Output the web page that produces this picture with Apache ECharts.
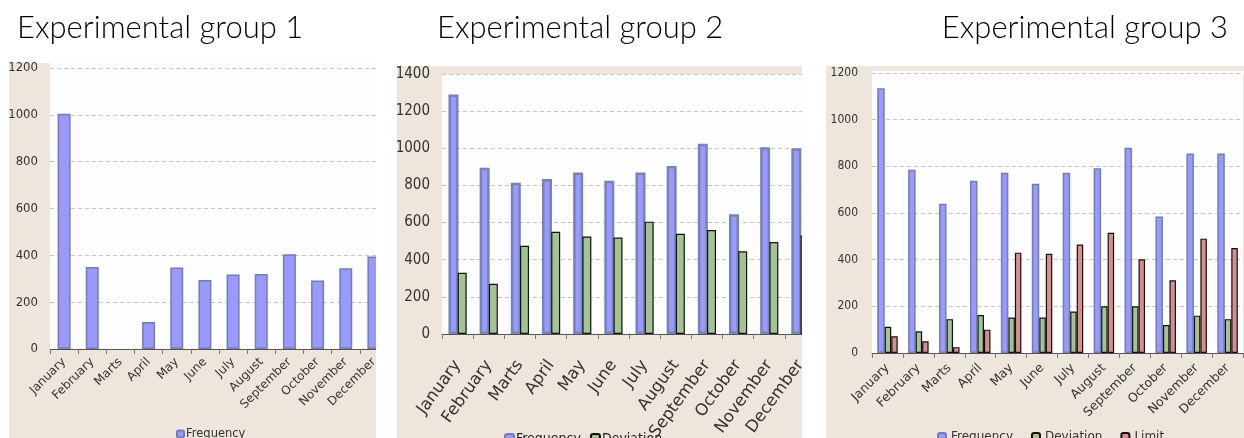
<!DOCTYPE html>
<html><head><meta charset="utf-8">
<script src="https://cdn.jsdelivr.net/npm/echarts@6/dist/echarts.min.js"></script>
<style>html,body{margin:0;padding:0;background:#fff}#c{width:1244px;height:438px}</style>
</head><body><div id="c"></div>
<script>
const months = ['January','February','Marts','April','May','June','July','August','September','October','November','December'];
const titles = ['Experimental group 1','Experimental group 2','Experimental group 3'];
const g1Frequency = [1005,350,null,115,348,295,318,320,405,292,345,395];
const g2Frequency = [1290,895,815,835,870,825,870,905,1025,645,1005,1000];
const g2Deviation = [330,270,475,550,525,520,605,540,560,445,495,530];
const g3Frequency = [1135,785,640,738,772,725,772,792,880,585,855,855];
const g3Deviation = [112,93,145,163,152,152,178,200,200,120,160,145];
const g3Limit = [72,50,25,100,430,425,465,515,402,312,490,450];
const y1Max = 1200, y2Max = 1400, y3Max = 1200, yStep = 200;

const BEIGE = '#EEE6DD';
const blue = {color:'#9999FF', borderColor:'#6F7FB0', borderWidth:1.5};
const blue2 = {color:'#9999FF', borderColor:'#7584B4', borderWidth:2.5};
const green = {color:'#A3C393', borderColor:'#111', borderWidth:1.2};
const red = {color:'#D98E8E', borderColor:'#111', borderWidth:1.2};

function xAxis(gi, fs, rot, fam, margin){
  return {type:'category', gridIndex:gi, data:months,
    axisLine:{lineStyle:{color:'#555', width:1}},
    axisTick:{show:true, alignWithLabel:false, length:5, lineStyle:{color:'#777'}},
    axisLabel:{interval:0, rotate:rot, fontSize:fs, color:'#333', fontFamily:fam, margin:margin}};
}
function yAxis(gi, max, fs, fam, margin){
  return {type:'value', gridIndex:gi, min:0, max:max, interval:yStep,
    axisLine:{show:false}, axisTick:{show:false},
    axisLabel:{fontSize:fs, color:'#333', fontFamily:fam, margin:margin, formatter:v => String(v)},
    splitLine:{lineStyle:{type:[4,3], color:'#C4C4C4'}}};
}
const titleStyle = {fontFamily:'Lato', fontWeight:300, fontSize:31, color:'#000'};
const gridBase = {show:true, backgroundColor:'#FDFDFD', borderWidth:0, containLabel:false, outerBoundsMode:'none'};

const chart = echarts.init(document.getElementById('c'), null, {renderer:'canvas'});
chart.setOption({
  animation:false,
  backgroundColor:'#fff',
  title:[
    {text:titles[0], left:17, top:12, padding:0, textStyle:titleStyle},
    {text:titles[1], left:437, top:12, padding:0, textStyle:titleStyle},
    {text:titles[2], right:16, top:12, padding:0, textStyle:titleStyle}
  ],
  graphic:[
    {type:'rect', z:-100, shape:{x:9,y:63,width:367,height:375}, style:{fill:BEIGE}, silent:true},
    {type:'rect', z:-100, shape:{x:397,y:66,width:405,height:372}, style:{fill:BEIGE}, silent:true},
    {type:'rect', z:-100, shape:{x:826,y:66,width:418,height:372}, style:{fill:BEIGE}, silent:true},
    {type:'rect', z:-50, shape:{x:50,y:63,width:326,height:6}, style:{fill:'#FDFDFD'}, silent:true},
    {type:'rect', z:-50, shape:{x:872,y:71,width:372,height:3}, style:{fill:'#FDFDFD'}, silent:true},
    {type:'rect', z:100, shape:{x:376,y:55,width:21,height:383}, style:{fill:'#fff'}, silent:true},
    {type:'rect', z:100, shape:{x:802,y:55,width:24,height:383}, style:{fill:'#fff'}, silent:true}
  ],
  legend:[
    {data:['Frequency'], left:171, top:423, itemWidth:7, itemHeight:7, itemGap:10,
      textStyle:{fontSize:11.5, fontFamily:'DejaVu Sans', color:'#333', padding:[0,0,0,-3]}},
    {data:['Frequency','Deviation'], left:499, top:427, itemWidth:9, itemHeight:10, itemGap:9,
      textStyle:{fontSize:14, fontFamily:'DejaVu Sans Condensed', color:'#222', padding:[0,0,0,-3]}},
    {data:['Frequency','Deviation','Limit'], left:932, top:426, itemWidth:8, itemHeight:8, itemGap:18,
      textStyle:{fontSize:12, fontFamily:'DejaVu Sans', color:'#333'}}
  ],
  grid:[
    Object.assign({left:50, top:68, width:338, height:281}, gridBase),
    Object.assign({left:442, top:74, width:374, height:260}, gridBase),
    Object.assign({left:872, top:73, width:371, height:280}, gridBase)
  ],
  xAxis:[
    xAxis(0, 12, 45, 'DejaVu Sans', 11),
    xAxis(1, 16.5, 54, 'DejaVu Sans', 28),
    xAxis(2, 12.5, 45, 'DejaVu Sans', 13)
  ],
  yAxis:[
    yAxis(0, y1Max, 13, 'DejaVu Sans Condensed', 12),
    yAxis(1, y2Max, 15, 'DejaVu Sans Condensed', 12),
    yAxis(2, y3Max, 12, 'DejaVu Sans Condensed', 14)
  ],
  series:[
    {name:'Frequency', type:'bar', xAxisIndex:0, yAxisIndex:0, data:g1Frequency, barWidth:13, itemStyle:blue},
    {name:'Frequency', type:'bar', xAxisIndex:1, yAxisIndex:1, data:g2Frequency, barWidth:10, barGap:'-8%', itemStyle:blue2},
    {name:'Deviation', type:'bar', xAxisIndex:1, yAxisIndex:1, data:g2Deviation, barWidth:9, barGap:'-8%', itemStyle:green},
    {name:'Frequency', type:'bar', xAxisIndex:2, yAxisIndex:2, data:g3Frequency, barWidth:7.5, barGap:'0%', itemStyle:blue},
    {name:'Deviation', type:'bar', xAxisIndex:2, yAxisIndex:2, data:g3Deviation, barWidth:6.5, barGap:'0%', itemStyle:green},
    {name:'Limit', type:'bar', xAxisIndex:2, yAxisIndex:2, data:g3Limit, barWidth:6.5, barGap:'0%', itemStyle:red}
  ]
});
</script></body></html>
